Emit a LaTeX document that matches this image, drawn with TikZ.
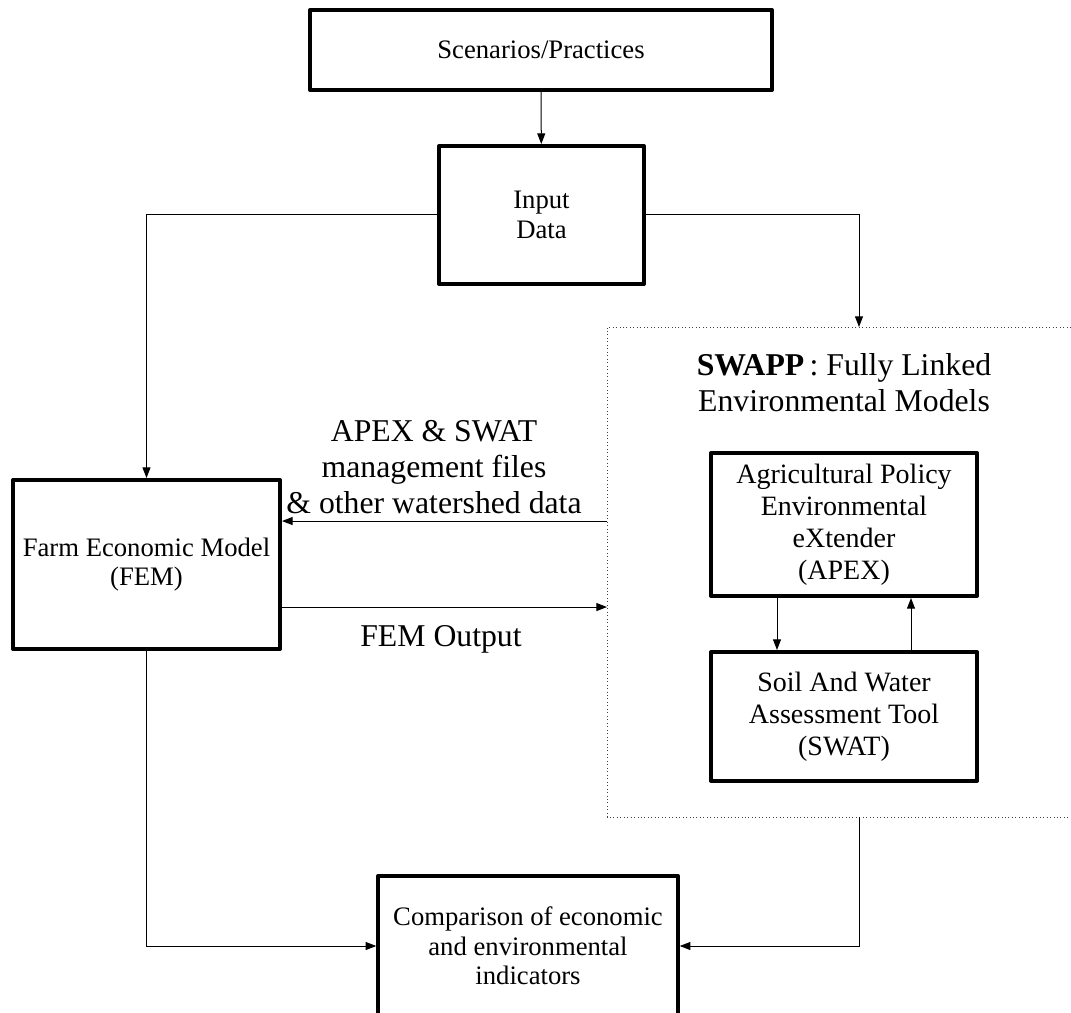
\documentclass[tikz,border=0pt]{standalone}
\usepackage{fontspec}
\setmainfont{Liberation Serif}
\usetikzlibrary{arrows.meta}
\begin{document}
\begin{tikzpicture}[x=0.75pt,y=-0.75pt,
  box/.style={draw,line width=3pt,line join=round,align=center,inner sep=0pt,font=\fontsize{20}{22}\selectfont},
  mbox/.style={box,font=\fontsize{21}{24}\selectfont},
  lbl/.style={align=center,inner sep=0pt,font=\fontsize{23.8}{27}\selectfont},
  conn/.style={line width=0.75pt,-{Triangle[length=8pt,width=6pt]}},
  region/.style={draw=none,inner sep=0pt,outer sep=0pt},
  dotline/.style={dotted,line width=0.6pt,black!75}]
\useasboundingbox (0,0) rectangle (1071,1013);

% boxes
\node[box,minimum width=346.5pt,minimum height=60pt] (scen) at (541,50) {Scenarios/Practices};
\node[box,minimum width=153.75pt,minimum height=103.5pt] (input) at (541.5,215) {Input\\Data};
\node[box,minimum width=200.25pt,minimum height=126.75pt] (fem) at (146.5,564.5) {Farm Economic Model\\(FEM)};
\node[region,minimum width=348pt,minimum height=367.5pt] (swapp) at (839,572) {};
\node[mbox,minimum width=199.5pt,minimum height=107.25pt] (apex) at (844,524.5) {Agricultural Policy\\Environmental\\eXtender\\(APEX)};
\node[mbox,minimum width=199.5pt,minimum height=96.75pt] (swat) at (844,716.5) {Soil And Water\\Assessment Tool\\(SWAT)};
\node[box,minimum width=224.6pt,minimum height=105pt] (comp) at (528,946) {Comparison of economic\\and environmental\\indicators};

% dotted container (open to the right)
\draw[dotline] (swapp.north east) -- (swapp.north west) -- (swapp.south west) -- (swapp.south east);

% texts
\node[lbl] (title) at (844,383) {\textbf{SWAPP}\,: Fully Linked\\Environmental Models};
\node[lbl] (mgmt) at (434,467) {APEX \& SWAT\\management files\\\& other watershed data};
\node[lbl] (femout) at (441,639) {FEM Output};

% connectors
\coordinate (a1) at ([yshift=32.6pt]fem.east);
\coordinate (a2) at ([yshift=-31.9pt]fem.east);
\draw[conn] (scen) -- (input);
\draw[conn] (input.west) -| (fem.north);
\draw[conn] (input.east) -| ([xshift=15pt]swapp.north);
\draw[conn] (swapp.west |- a1) -- (a1);
\draw[conn] (a2) -- (swapp.west |- a2);
\draw[conn] ([xshift=-50.25pt]apex.south) -- ([xshift=-50.25pt]swat.north);
\draw[conn] ([xshift=50.25pt]swat.north) -- ([xshift=50.25pt]apex.south);
\draw[conn] (fem.south) |- (comp.west);
\draw[conn] ([xshift=15pt]swapp.south) |- (comp.east);
\end{tikzpicture}
\end{document}
